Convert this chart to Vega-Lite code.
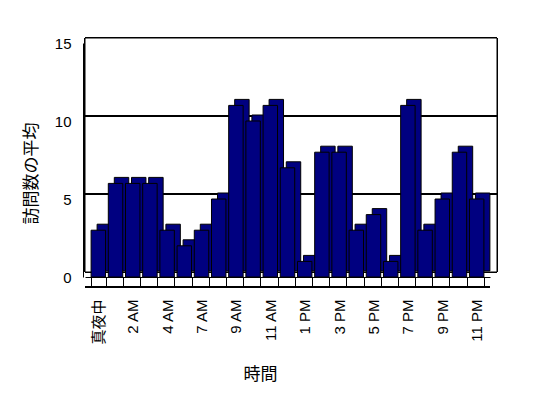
{
  "$schema": "https://vega.github.io/schema/vega-lite/v6.json",
  "width": 405,
  "height": 234,
  "autosize": {"type": "none"},
  "padding": {"left": 85, "top": 43, "right": 58, "bottom": 121},
  "background": "white",
  "config": {
    "view": {"stroke": null},
    "font": "Liberation Sans, Noto Sans CJK JP",
    "axis": {"labelFont": "Liberation Sans, Noto Sans CJK JP", "titleFont": "Liberation Sans, Noto Sans CJK JP"}
  },
  "data": {
    "values": [
      {"hour": "真夜中", "avg": 3},
      {"hour": "1 AM", "avg": 6},
      {"hour": "2 AM", "avg": 6},
      {"hour": "3 AM", "avg": 6},
      {"hour": "4 AM", "avg": 3},
      {"hour": "5 AM", "avg": 2},
      {"hour": "7 AM", "avg": 3},
      {"hour": "8 AM", "avg": 5},
      {"hour": "9 AM", "avg": 11},
      {"hour": "10 AM", "avg": 10},
      {"hour": "11 AM", "avg": 11},
      {"hour": "12 PM", "avg": 7},
      {"hour": "1 PM", "avg": 1},
      {"hour": "2 PM", "avg": 8},
      {"hour": "3 PM", "avg": 8},
      {"hour": "4 PM", "avg": 3},
      {"hour": "5 PM", "avg": 4},
      {"hour": "6 PM", "avg": 1},
      {"hour": "7 PM", "avg": 11},
      {"hour": "8 PM", "avg": 3},
      {"hour": "9 PM", "avg": 5},
      {"hour": "10 PM", "avg": 8},
      {"hour": "11 PM", "avg": 5}
    ]
  },
  "layer": [
    {
      "mark": {"type": "rect", "fill": "white", "stroke": "black", "strokeWidth": 1, "xOffset": 7, "x2Offset": 7, "yOffset": -5, "y2Offset": -5},
      "encoding": {
        "y": {"datum": 15, "type": "quantitative", "scale": {"domain": [0, 15], "nice": false}},
        "y2": {"datum": 0}
      }
    },
    {
      "mark": {"type": "rule", "color": "black", "strokeWidth": 1, "xOffset": 7, "x2Offset": 7, "yOffset": -5},
      "encoding": {"y": {"datum": 5, "type": "quantitative"}}
    },
    {
      "mark": {"type": "rule", "color": "black", "strokeWidth": 1, "xOffset": 7, "x2Offset": 7, "yOffset": -5},
      "encoding": {"y": {"datum": 10, "type": "quantitative"}}
    },
    {
      "mark": {"type": "rule", "color": "black", "strokeWidth": 1, "yOffset": 10},
      "encoding": {"y": {"datum": 0, "type": "quantitative"}}
    },
    {
      "encoding": {
        "x": {
          "field": "hour",
          "type": "nominal",
          "sort": null,
          "scale": {"paddingInner": 0.16, "paddingOuter": 0.355},
          "axis": {
            "title": "時間",
            "titleFontSize": 17,
            "titleFontWeight": "normal",
            "titleColor": "black",
            "titleX": 175,
            "titleY": 97,
            "titleBaseline": "middle",
            "titleAlign": "center",
            "labelAngle": 270,
            "labelFontSize": 15,
            "labelColor": "black",
            "labelPadding": 12,
            "labelOverlap": false,
            "tickBand": "extent",
            "tickSize": 10,
            "tickColor": "black",
            "domainColor": "black",
            "labelExpr": "indexof(['真夜中','2 AM','4 AM','7 AM','9 AM','11 AM','1 PM','3 PM','5 PM','7 PM','9 PM','11 PM'], datum.value) >= 0 ? datum.label : ''"
          }
        },
        "y": {
          "field": "avg",
          "type": "quantitative",
          "axis": {
            "title": "訪問数の平均",
            "values": [0, 5, 10, 15],
            "grid": false,
            "ticks": false,
            "offset": 2,
            "domainColor": "black",
            "labelFontSize": 15,
            "labelColor": "black",
            "labelPadding": 12,
            "titleFontSize": 17,
            "titleFontWeight": "normal",
            "titleColor": "black",
            "titleX": -52,
            "titleY": 130,
            "titleAngle": 270,
            "titleBaseline": "middle",
            "titleAlign": "center"
          }
        }
      },
      "layer": [
        {"mark": {"type": "bar", "fill": "#000080", "stroke": "black", "strokeWidth": 1, "xOffset": 6, "yOffset": -6}},
        {"mark": {"type": "bar", "fill": "#000080", "stroke": "black", "strokeWidth": 1}}
      ]
    }
  ]
}
